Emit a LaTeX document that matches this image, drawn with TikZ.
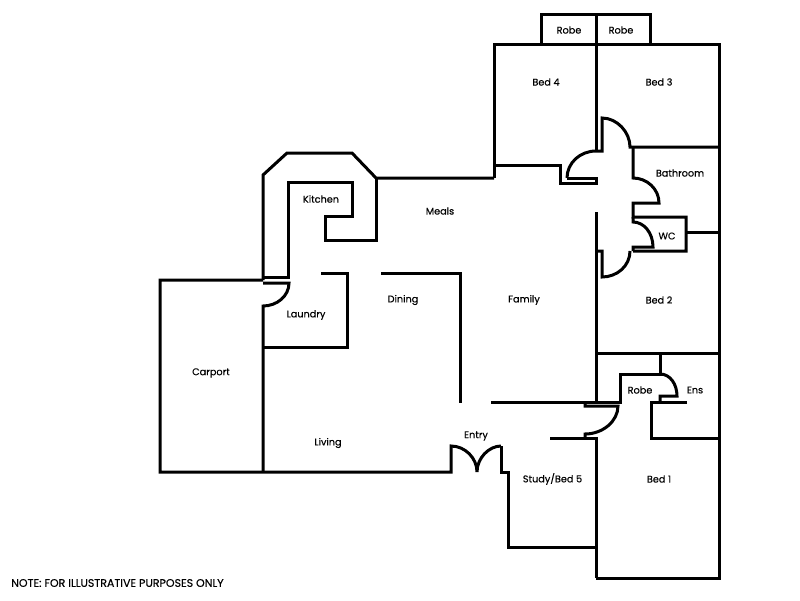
\documentclass[tikz,border=0pt]{standalone}
\usepackage{fontspec}
\setmainfont{Poppins}[FakeBold=0.4,BoldFont=Poppins]

\tikzset{
  wall/.style={line width=3pt,miter limit=4},
  room/.style={font=\fontsize{9.7}{11}\selectfont\bfseries,inner sep=0pt},
  note/.style={font=\fontsize{11}{13}\selectfont\bfseries,inner sep=0pt,anchor=west}
}

\begin{document}
\begin{tikzpicture}[x=1pt,y=-1pt]
\useasboundingbox (0,0) rectangle (800,600);

% Bedroom wing outline
\draw[wall] (596,578) -- (719,578) -- (719,44) -- (494,44) -- (494,178);
\draw[wall] (494,165) -- (560,165) -- (560,183) -- (596,183) -- (596,178) -- (567,178);
\draw[wall] (541,44) -- (541,14) -- (650,14) -- (650,44);
\draw[wall] (596,14) -- (596,151);

% Bed 4 and Bed 3 doors
\draw[wall] (567,178) .. controls (567,163) and (580,151) .. (596,151) -- (602,151) -- (602,118) .. controls (617,118) and (630,132) .. (630,147) -- (719,147);

% Bathroom and WC
\draw[wall] (633,147) -- (633,178) .. controls (647,178) and (659,189) .. (659,203) -- (633,203) -- (633,217) -- (686,217) -- (686,251) -- (633,251);
\draw[wall] (633,217) -- (633,222) .. controls (644,222) and (653,233) .. (653,247) -- (633,247) -- (633,251);
\draw[wall] (686,232) -- (719,232);

% Bed 2
\draw[wall] (630,251) .. controls (630,266) and (617,277) .. (602,277) -- (602,251) -- (596,251);
\draw[wall] (596,212) -- (596,402);
\draw[wall] (596,353) -- (719,353);

% Robe and ensuite
\draw[wall] (660,353) -- (660,374) -- (620,374) -- (620,402) -- (491,402);
\draw[wall] (660,374) .. controls (670,374) and (677,384) .. (677,396) -- (660,396) -- (660,402);
\draw[wall] (687,402) -- (651,402) -- (651,438) -- (719,438);

% Bed 1 door
\draw[wall] (585,402) -- (585,406) -- (618,406) .. controls (618,421) and (603,434) .. (585,434) -- (585,438);
\draw[wall] (550,438) -- (596,438) -- (596,578);

% Study
\draw[wall] (596,547) -- (508,547) -- (508,472) -- (501,472) -- (501,446);

% Entry doors
\draw[wall] (501,446) .. controls (489,446) and (477,458) .. (477,472) .. controls (477,458) and (465,446) .. (451,446) -- (451,472) -- (160,472) -- (160,280) -- (263,280);

% Kitchen
\draw[wall] (263,280) -- (263,175) -- (287,153) -- (352,153) -- (376,178) -- (494,178);
\draw[wall] (376,178) -- (376,240) -- (325,240) -- (325,216) -- (352,216) -- (352,182) -- (288,182) -- (288,277) -- (263,277);

% Laundry
\draw[wall] (263,283) -- (289,283) .. controls (289,296) and (277,306) .. (263,306) -- (263,472);
\draw[wall] (263,347) -- (347,347) -- (347,273) -- (321,273);

% Dining
\draw[wall] (381,273) -- (460,273) -- (460,403);

% Room names
\node[room] (robea) at (569,30) {Robe};
\node[room] (robeb) at (621,30) {Robe};
\node[room] (bedfour) at (546,82) {Bed 4};
\node[room] (bedthree) at (659,82) {Bed 3};
\node[room] (bathroom) at (680,173) {Bathroom};
\node[room] (wc) at (667,236) {WC};
\node[room] (bedtwo) at (659,300) {Bed 2};
\node[room] (meals) at (440,211) {Meals};
\node[room] (kitchen) at (321,199) {Kitchen};
\node[room] (dining) at (403,300) {Dining};
\node[room] (family) at (524,300) {Family};
\node[room] (laundry) at (306,315) {Laundry};
\node[room] (carport) at (211,373) {Carport};
\node[room] (robec) at (640,390) {Robe};
\node[room] (ens) at (695,390) {Ens};
\node[room] (living) at (328,443) {Living};
\node[room] (entry) at (476,436) {Entry};
\node[room] (study) at (552.5,479) {Study/Bed 5};
\node[room] (bedone) at (659,479) {Bed 1};

\node[note] (notice) at (11,583) {NOTE: FOR ILLUSTRATIVE PURPOSES ONLY};

\end{tikzpicture}
\end{document}
